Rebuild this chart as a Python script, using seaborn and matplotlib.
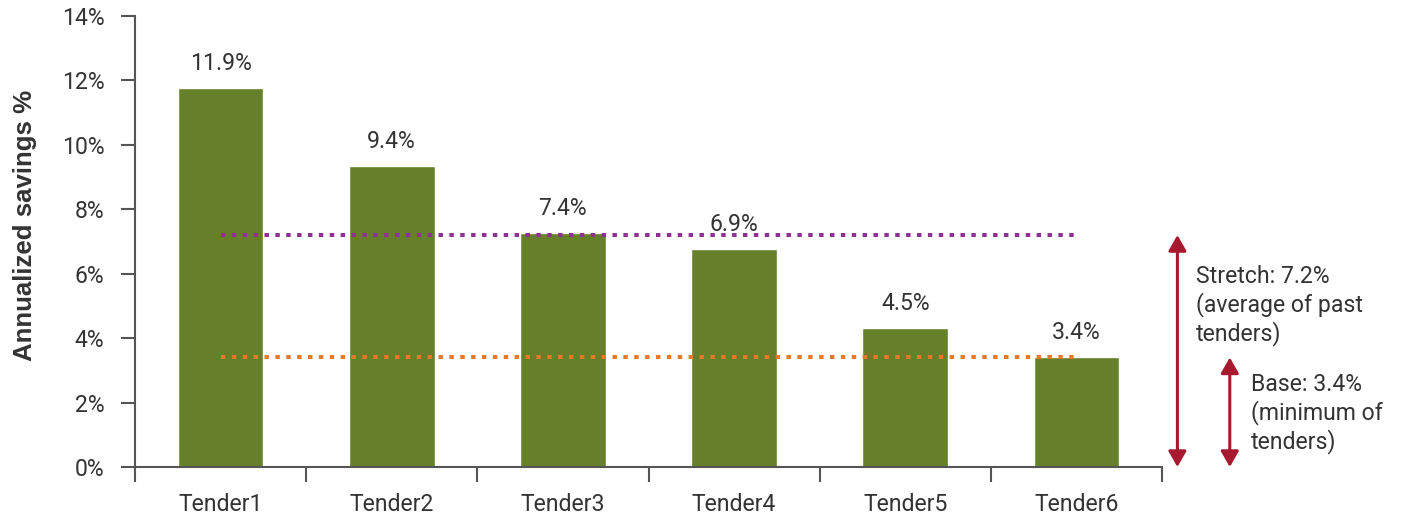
import matplotlib
matplotlib.use("Agg")
import matplotlib.pyplot as plt
import seaborn as sns
import pandas as pd
import numpy as np

# ---- data ----
categories = ["Tender1", "Tender2", "Tender3", "Tender4", "Tender5", "Tender6"]
savings = [11.75, 9.33, 7.25, 6.78, 4.30, 3.40]
value_labels = ["11.9%", "9.4%", "7.4%", "6.9%", "4.5%", "3.4%"]
stretch = 7.2
base = 3.4
y_ticks = [0, 2, 4, 6, 8, 10, 12, 14]
y_label = "Annualized savings %"
stretch_text = f"Stretch: {stretch}%\n(average of past\ntenders)"
base_text = f"Base: {base}%\n(minimum of\ntenders)"

# ---- style ----
sns.set_theme(style="ticks")
plt.rcParams['font.family'] = ['Roboto', 'DejaVu Sans']
TXT = "#333333"
AX = "#555555"
GREEN = "#668029"
PURPLE = "#8E3192"
ORANGE = "#E8792A"
RED = "#A6192E"
FS = 16.6
FW = "normal"

fig = plt.figure(figsize=(14.03, 5.15), dpi=100)
W, H = 1403, 515
ax = fig.add_axes([135 / W, 48 / H, (1162 - 135) / W, (467 - 16) / H])

df = pd.DataFrame({"Tender": categories, "Savings": savings})
sns.barplot(data=df, x="Tender", y="Savings", color=GREEN, width=0.5,
            saturation=1, ax=ax, errorbar=None)

n = len(categories)
ax.set_xlim(-0.5, n - 0.5)
ax.set_ylim(y_ticks[0], y_ticks[-1])

# x ticks: marks between categories, labels at centers
ax.set_xticks(np.arange(-0.5, n), labels=[""] * (n + 1))
ax.set_xticks(np.arange(n), labels=categories, minor=True)
ax.tick_params(axis="x", which="major", length=11, width=1.5, color=AX, direction="out")
ax.tick_params(axis="x", which="minor", length=0, pad=19, labelsize=FS, labelcolor=TXT)

ax.set_yticks(y_ticks, labels=[f"{t}%" for t in y_ticks])
ax.tick_params(axis="y", length=10, width=1.5, color=AX, pad=12, labelsize=FS, labelcolor=TXT)
for lab in ax.get_xticklabels(minor=True) + ax.get_yticklabels():
    lab.set_fontweight(FW)

ax.set_xlabel("")
ax.set_ylabel(y_label, fontsize=18.6, fontweight="bold", color=TXT,
              family=['Liberation Sans', 'DejaVu Sans'])
ax.yaxis.set_label_coords((37 - 135) / 1027, (467 - 225) / 451)

for s in ["top", "right"]:
    ax.spines[s].set_visible(False)
for s in ["left", "bottom"]:
    ax.spines[s].set_color(AX)
    ax.spines[s].set_linewidth(1.5)

# value labels
for i, (v, lab) in enumerate(zip(savings, value_labels)):
    ax.annotate(lab, xy=(i, v), xytext=(0, 13), textcoords="offset points",
                ha="center", va="baseline", fontsize=FS, color=TXT, fontweight=FW)

# reference lines
ls = (0, (1.1, 1.6))
ax.plot([0, n - 1], [stretch, stretch], color=PURPLE, lw=2.9, linestyle=ls,
        dash_capstyle="butt", zorder=3)
ax.plot([0, n - 1], [base, base], color=ORANGE, lw=2.9, linestyle=ls,
        dash_capstyle="butt", zorder=3)

# arrows
astyle = "<|-|>,head_length=0.63,head_width=0.36"
for xpos, top in [(5.59, stretch), (5.896, base)]:
    ax.annotate("", xy=(xpos, top), xytext=(xpos, 0),
                arrowprops=dict(arrowstyle=astyle, color=RED, lw=2.2,
                                mutation_scale=15, shrinkA=0, shrinkB=0),
                annotation_clip=False)

ax.text(5.70, 6.27, stretch_text, ha="left", va="top", fontsize=FS, color=TXT,
        fontweight=FW, linespacing=1.22, clip_on=False)
ax.text(6.02, 2.92, base_text, ha="left", va="top", fontsize=FS, color=TXT,
        fontweight=FW, linespacing=1.22, clip_on=False)

fig.savefig("out.png", dpi=100)
